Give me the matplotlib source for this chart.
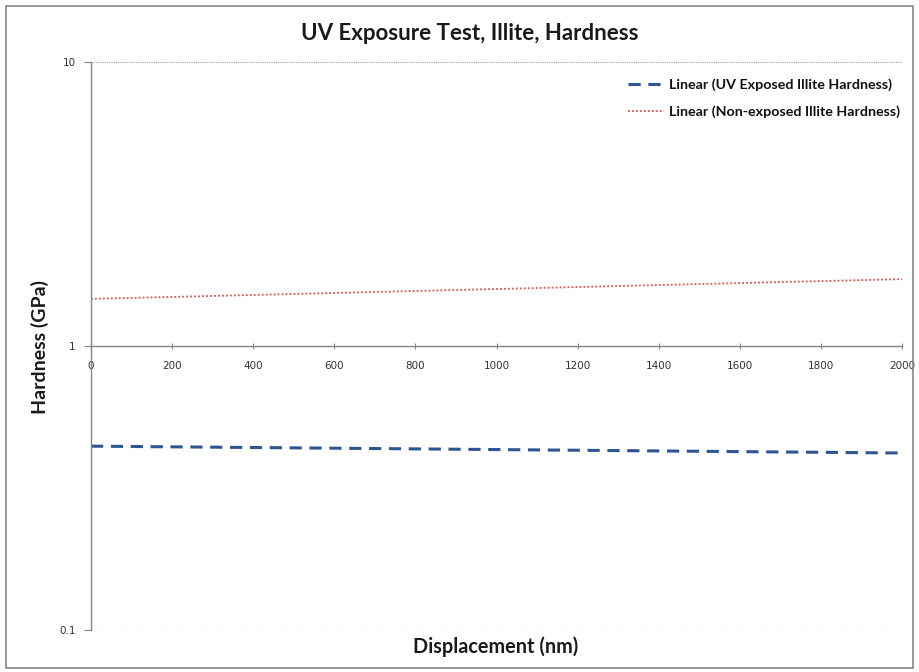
import matplotlib.pyplot as plt
from matplotlib.patches import Rectangle

# trendline end points (displacement in nm, hardness in GPa)
disp = [0, 2000]
uv_hardness = [0.444, 0.420]
non_exposed_hardness = [1.465, 1.72]
x_ticks = [0, 200, 400, 600, 800, 1000, 1200, 1400, 1600, 1800, 2000]
y_ticks = [0.1, 1, 10]
y_tick_labels = ['0.1', '1', '10']

fig = plt.figure(figsize=(9.19, 6.72), dpi=100)
fig.patches.append(Rectangle((0.006, 0.006), 0.988, 0.985, transform=fig.transFigure,
                             fill=False, edgecolor='#868686', linewidth=1.2))

ax = fig.add_axes([91/919, 1 - 630/672, (902-91)/919, (630-62)/672])
ax.set_yscale('log')
ax.set_xlim(0, 2000)
ax.set_ylim(0.1, 10)

ax.plot(disp, uv_hardness, color='#2e5591', linestyle=(0, (4, 2.5)), linewidth=2.2,
        label='Linear (UV Exposed Illite Hardness)')
ax.plot(disp, non_exposed_hardness, color='#d9534f', linestyle=(0, (1, 1.2)), linewidth=1.3,
        label='Linear (Non-exposed Illite Hardness)')

# x axis crosses at 1
ax.spines['bottom'].set_position(('data', 1))
ax.spines['top'].set_visible(False)
ax.spines['right'].set_visible(False)
for s in ('bottom', 'left'):
    ax.spines[s].set_color('#868686')
    ax.spines[s].set_linewidth(1.0)

ax.set_xticks(x_ticks)
ax.set_xticklabels([str(v) for v in x_ticks], fontsize=7.5, color='#333333', family='DejaVu Sans')
ax.set_yticks(y_ticks)
ax.set_yticklabels(y_tick_labels, fontsize=7.5, color='#333333', family='DejaVu Sans')
ax.yaxis.set_minor_locator(plt.NullLocator())
ax.tick_params(axis='x', direction='inout', length=5, color='#868686', pad=8)
ax.tick_params(axis='y', direction='out', length=5, color='#868686', pad=6)

for v in (0.1, 10):
    ax.axhline(v, color='#a0a0a0', linestyle=(0, (1, 1)), linewidth=0.8, zorder=0)

fig.text(470/919, 1 - 33/672, 'UV Exposure Test, Illite, Hardness', ha='center', va='center',
         fontsize=16, fontweight='bold', family='Lato', color='#1a1a1a')
fig.text(496/919, 1 - 647/672, 'Displacement (nm)', ha='center', va='center',
         fontsize=14.3, fontweight='bold', family='Lato', color='#1a1a1a')
fig.text(40/919, 1 - 347/672, 'Hardness (GPa)', ha='center', va='center', rotation=90,
         fontsize=14, fontweight='bold', family='Lato', color='#1a1a1a')

leg = fig.legend(loc='upper left', bbox_to_anchor=(628/919, 1 - 78/672), frameon=False,
                 prop={'family': 'Lato', 'weight': 'bold', 'size': 10.3},
                 borderpad=0, borderaxespad=0,
                 handlelength=2.5, handletextpad=0.35, labelspacing=1.0)
for t in leg.get_texts():
    t.set_color('#111111')

fig.savefig('out.png', dpi=100)
